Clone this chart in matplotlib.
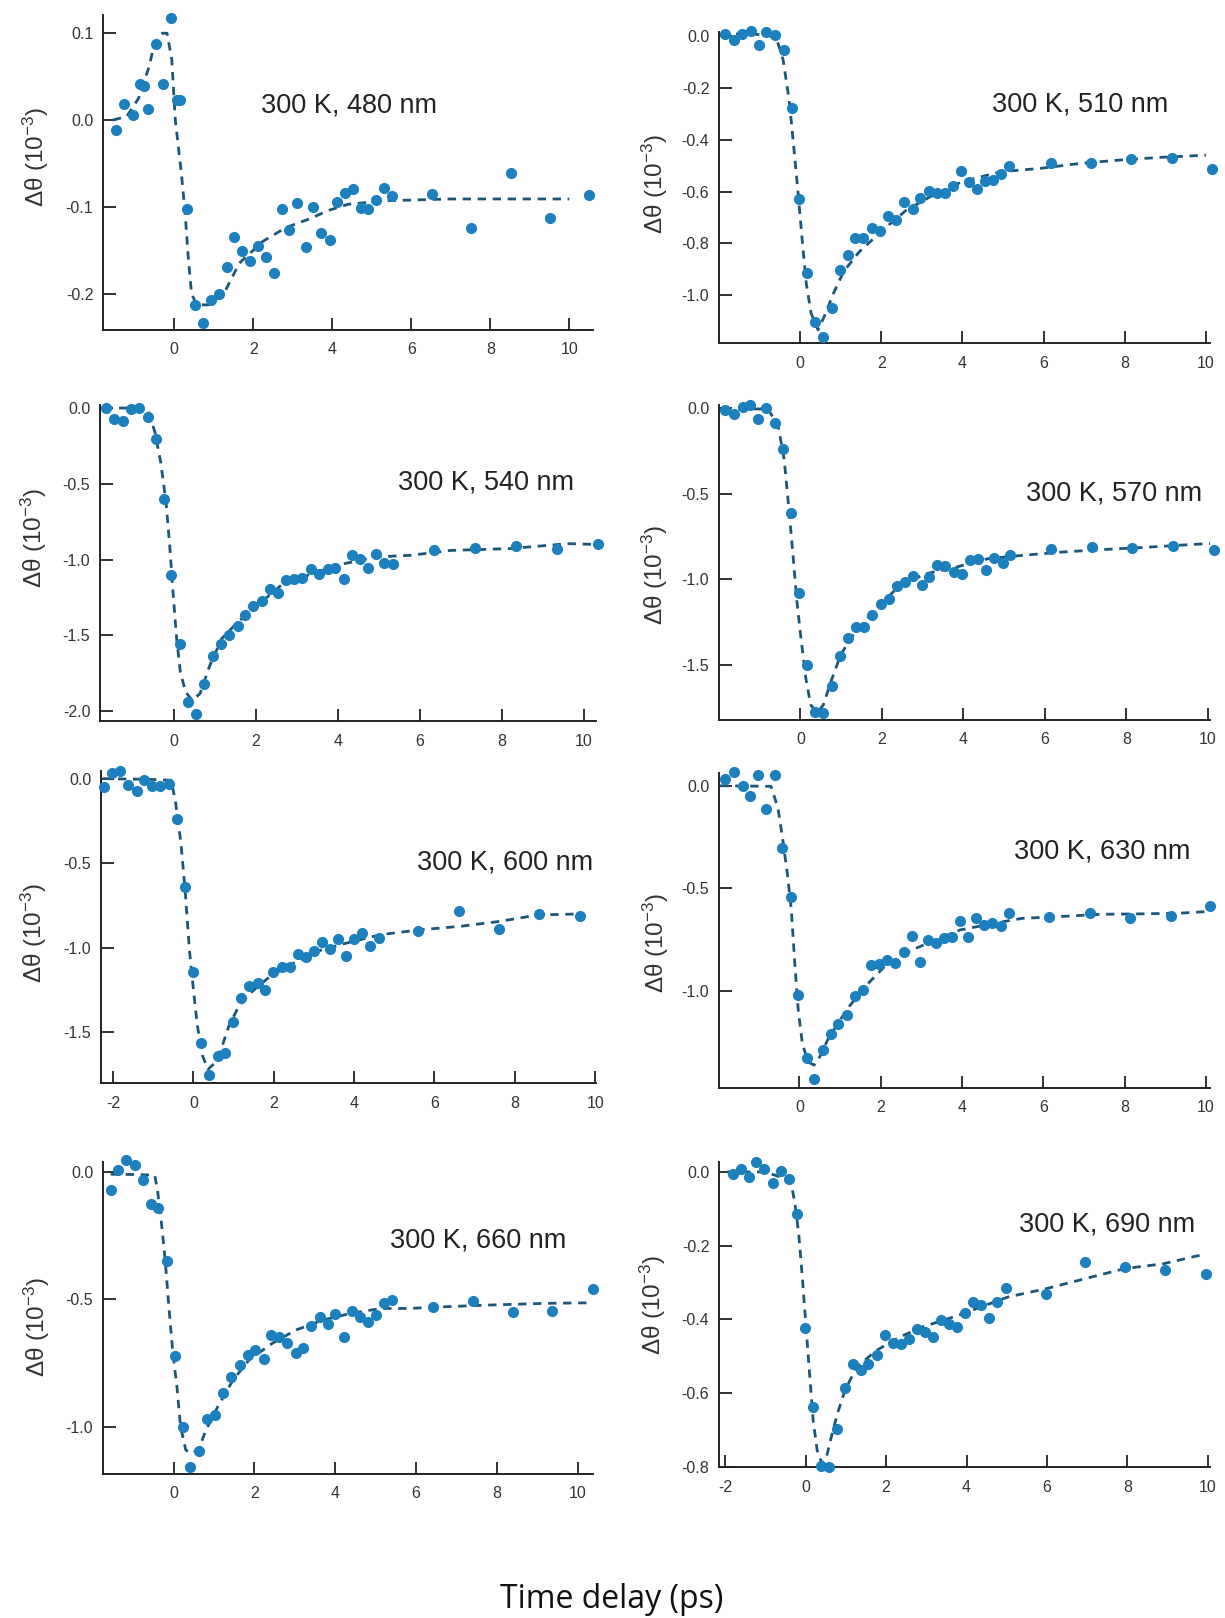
import matplotlib
matplotlib.use("Agg")
import matplotlib.pyplot as plt

plt.rcParams["font.family"] = ["Liberation Sans", "DejaVu Sans"]
plt.rcParams["axes.unicode_minus"] = False
plt.rcParams["mathtext.default"] = "regular"

# ---- data: delay (ps), signal (1e-3) and fit curve ----
T_480 = [-1.48, -1.28, -1.05, -0.86, -0.76, -0.66, -0.46, -0.28, -0.07, 0.08, 0.16, 0.33, 0.52,
         0.74, 0.93, 1.13, 1.34, 1.52, 1.71, 1.93, 2.13, 2.32, 2.53, 2.73, 2.91, 3.12, 3.33, 3.52,
         3.72, 3.94, 4.11, 4.32, 4.52, 4.72, 4.91, 5.12, 5.31, 5.52, 6.53, 7.51, 8.52, 9.51, 10.51]
D_480 = [-0.011, 0.018, 0.006, 0.042, 0.039, 0.013, 0.088, 0.041, 0.118, 0.023, 0.023, -0.103,
         -0.213, -0.234, -0.207, -0.200, -0.169, -0.135, -0.151, -0.163, -0.145, -0.158, -0.176,
         -0.103, -0.127, -0.096, -0.146, -0.100, -0.130, -0.138, -0.094, -0.084, -0.080, -0.101,
         -0.102, -0.092, -0.078, -0.088, -0.085, -0.124, -0.061, -0.113, -0.087]
FT_480 = [-1.55, -1.2, -0.9, -0.63, -0.5, -0.3, -0.18, -0.06, 0.03, 0.18, 0.28, 0.35, 0.44, 0.57,
          0.87, 1.26, 1.65, 2.24, 2.83, 3.42, 3.92, 4.41, 5.39, 7.0, 10.0]
F_480 = [0.0, 0.004, 0.025, 0.062, 0.088, 0.1, 0.1, 0.07, 0.0, -0.06, -0.108, -0.154, -0.2, -0.213,
         -0.213, -0.2, -0.165, -0.14, -0.124, -0.114, -0.104, -0.097, -0.093, -0.091, -0.091]

T_510 = [-1.86, -1.63, -1.44, -1.21, -1.02, -0.83, -0.61, -0.40, -0.21, -0.02, 0.17, 0.37, 0.56,
         0.78, 0.97, 1.18, 1.36, 1.56, 1.76, 1.96, 2.17, 2.36, 2.56, 2.77, 2.96, 3.17, 3.37, 3.56,
         3.77, 3.97, 4.16, 4.37, 4.56, 4.76, 4.95, 5.15, 6.17, 7.17, 8.16, 9.17, 10.16]
D_510 = [0.008, -0.013, 0.01, 0.02, -0.035, 0.017, 0.004, -0.054, -0.275, -0.628, -0.915, -1.105,
         -1.16, -1.05, -0.902, -0.845, -0.78, -0.78, -0.739, -0.751, -0.694, -0.71, -0.639, -0.668,
         -0.623, -0.599, -0.604, -0.607, -0.578, -0.519, -0.564, -0.589, -0.559, -0.555, -0.53,
         -0.5, -0.491, -0.488, -0.472, -0.469, -0.514]
FT_510 = [-1.95, -1.3, -0.8, -0.58, -0.42, -0.27, -0.15, -0.05, 0.05, 0.15, 0.27, 0.44, 0.6, 0.83,
          1.07, 1.46, 2.04, 2.62, 3.2, 3.98, 4.95, 5.92, 6.89, 7.86, 8.83, 10.0]
F_510 = [0.008, 0.01, 0.005, -0.01, -0.09, -0.247, -0.44, -0.607, -0.787, -0.954, -1.07, -1.134,
         -1.08, -0.99, -0.909, -0.832, -0.748, -0.671, -0.62, -0.562, -0.523, -0.51, -0.491,
         -0.478, -0.468, -0.459]

T_540 = [-1.66, -1.47, -1.25, -1.04, -0.85, -0.63, -0.44, -0.24, -0.06, 0.14, 0.35, 0.55, 0.74,
         0.95, 1.15, 1.35, 1.56, 1.74, 1.94, 2.14, 2.35, 2.55, 2.74, 2.94, 3.14, 3.35, 3.54, 3.75,
         3.94, 4.15, 4.35, 4.55, 4.75, 4.94, 5.14, 5.35, 6.34, 7.36, 8.35, 9.34, 10.36]
D_540 = [0.0, -0.07, -0.088, -0.004, 0.0, -0.059, -0.202, -0.598, -1.105, -1.556, -1.94, -2.018,
         -1.82, -1.637, -1.556, -1.496, -1.439, -1.369, -1.307, -1.276, -1.193, -1.219, -1.138,
         -1.127, -1.122, -1.06, -1.094, -1.065, -1.056, -1.131, -0.973, -0.999, -1.056, -0.961,
         -1.023, -1.032, -0.939, -0.922, -0.913, -0.928, -0.9]
FT_540 = [-1.7, -0.9, -0.63, -0.46, -0.32, -0.19, -0.1, -0.02, 0.07, 0.16, 0.29, 0.45, 0.64, 0.88,
          1.17, 1.56, 2.04, 2.62, 3.38, 4.15, 4.92, 5.79, 6.75, 8.19, 9.63, 10.2]
F_540 = [0.0, 0.0, -0.02, -0.158, -0.356, -0.62, -0.906, -1.214, -1.523, -1.743, -1.875, -1.93,
         -1.885, -1.699, -1.522, -1.413, -1.303, -1.17, -1.093, -1.028, -0.983, -0.972, -0.94,
         -0.928, -0.895, -0.9]

T_570 = [-1.85, -1.64, -1.42, -1.25, -1.05, -0.84, -0.63, -0.43, -0.24, -0.04, 0.15, 0.35, 0.56,
         0.77, 0.98, 1.16, 1.36, 1.57, 1.76, 1.97, 2.16, 2.36, 2.56, 2.76, 2.97, 3.16, 3.35, 3.55,
         3.76, 3.96, 4.15, 4.36, 4.56, 4.75, 4.96, 5.14, 6.15, 7.16, 8.14, 9.15, 10.14]
D_570 = [-0.008, -0.033, 0.006, 0.02, -0.063, 0.0, -0.087, -0.24, -0.614, -1.083, -1.5, -1.776,
         -1.785, -1.624, -1.451, -1.343, -1.28, -1.283, -1.211, -1.146, -1.116, -1.043, -1.018,
         -0.984, -1.037, -0.988, -0.919, -0.925, -0.959, -0.969, -0.89, -0.88, -0.945, -0.874,
         -0.906, -0.86, -0.821, -0.811, -0.817, -0.807, -0.831]
FT_570 = [-1.9, -0.8, -0.55, -0.4, -0.29, -0.18, -0.09, 0.01, 0.13, 0.25, 0.41, 0.56, 0.75, 0.99,
          1.33, 1.81, 2.39, 3.06, 3.83, 4.6, 5.47, 6.44, 7.4, 8.36, 9.33, 10.05]
F_570 = [0.0, -0.004, -0.1, -0.3, -0.575, -0.87, -1.126, -1.343, -1.579, -1.736, -1.785, -1.736,
         -1.598, -1.441, -1.313, -1.185, -1.047, -0.969, -0.929, -0.88, -0.86, -0.841, -0.827,
         -0.815, -0.801, -0.791]

T_600 = [-2.23, -2.03, -1.83, -1.62, -1.4, -1.23, -1.03, -0.83, -0.62, -0.42, -0.21, 0.0, 0.19,
         0.39, 0.6, 0.79, 0.98, 1.19, 1.39, 1.6, 1.79, 1.99, 2.21, 2.4, 2.6, 2.8, 3.0, 3.2, 3.4,
         3.6, 3.79, 4.0, 4.2, 4.39, 4.61, 5.6, 6.62, 7.6, 8.61, 9.63]
D_600 = [-0.049, 0.033, 0.045, -0.039, -0.073, -0.01, -0.045, -0.045, -0.029, -0.236, -0.639,
         -1.145, -1.566, -1.754, -1.64, -1.625, -1.44, -1.297, -1.228, -1.208, -1.248, -1.145,
         -1.114, -1.114, -1.035, -1.055, -1.022, -0.969, -1.008, -0.949, -1.051, -0.949, -0.914,
         -0.992, -0.943, -0.9, -0.782, -0.888, -0.8, -0.815]
FT_600 = [-2.25, -1.0, -0.55, -0.44, -0.31, -0.2, -0.1, 0.0, 0.1, 0.23, 0.36, 0.54, 0.69, 0.88,
          1.13, 1.42, 1.91, 2.5, 3.19, 3.87, 4.66, 5.64, 6.62, 7.6, 8.58, 9.66]
F_600 = [0.0, -0.005, -0.01, -0.147, -0.383, -0.678, -1.012, -1.248, -1.464, -1.64, -1.72, -1.68,
         -1.6, -1.464, -1.346, -1.267, -1.169, -1.09, -1.012, -0.969, -0.923, -0.894, -0.874,
         -0.845, -0.806, -0.8]

T_630 = [-1.84, -1.62, -1.4, -1.21, -1.01, -0.82, -0.61, -0.43, -0.22, -0.03, 0.18, 0.36, 0.58,
         0.77, 0.96, 1.18, 1.37, 1.56, 1.76, 1.96, 2.16, 2.36, 2.57, 2.77, 2.96, 3.15, 3.37, 3.56,
         3.75, 3.95, 4.15, 4.35, 4.54, 4.74, 4.95, 5.15, 6.14, 7.14, 8.14, 9.13, 10.1]
D_630 = [0.033, 0.065, 0.0, -0.052, 0.054, -0.114, 0.054, -0.304, -0.54, -1.02, -1.328, -1.426,
         -1.288, -1.21, -1.158, -1.117, -1.024, -0.995, -0.873, -0.87, -0.849, -0.865, -0.808,
         -0.732, -0.857, -0.751, -0.767, -0.743, -0.735, -0.657, -0.738, -0.646, -0.678, -0.667,
         -0.683, -0.618, -0.637, -0.618, -0.646, -0.634, -0.585]
FT_630 = [-1.95, -0.7, -0.53, -0.41, -0.3, -0.2, -0.11, -0.03, 0.07, 0.21, 0.36, 0.5, 0.69, 0.94,
          1.22, 1.61, 2.09, 2.67, 3.35, 3.96, 4.79, 5.47, 6.43, 7.4, 8.36, 9.33, 10.0]
F_630 = [0.0, -0.003, -0.109, -0.263, -0.426, -0.605, -0.881, -1.093, -1.255, -1.345, -1.361,
         -1.32, -1.239, -1.158, -1.076, -0.979, -0.881, -0.808, -0.751, -0.702, -0.67, -0.646,
         -0.637, -0.626, -0.624, -0.621, -0.613]

T_660 = [-1.56, -1.37, -1.18, -0.96, -0.76, -0.57, -0.38, -0.16, 0.03, 0.22, 0.41, 0.63, 0.83,
         1.02, 1.23, 1.43, 1.64, 1.83, 2.02, 2.23, 2.41, 2.61, 2.8, 3.02, 3.21, 3.4, 3.61, 3.82,
         4.0, 4.21, 4.41, 4.6, 4.81, 5.01, 5.2, 5.4, 6.41, 7.4, 8.39, 9.37, 10.38]
D_660 = [-0.069, 0.009, 0.046, 0.026, -0.03, -0.127, -0.14, -0.35, -0.723, -1.0, -1.157, -1.094,
         -0.971, -0.954, -0.869, -0.804, -0.758, -0.719, -0.699, -0.736, -0.641, -0.647, -0.671,
         -0.712, -0.693, -0.605, -0.571, -0.597, -0.558, -0.647, -0.545, -0.571, -0.588, -0.562,
         -0.516, -0.503, -0.529, -0.507, -0.549, -0.545, -0.461]
FT_660 = [-1.56, -1.0, -0.47, -0.4, -0.31, -0.21, -0.12, -0.02, 0.08, 0.17, 0.3, 0.43, 0.61, 0.8,
          1.09, 1.47, 1.86, 2.44, 3.02, 3.69, 4.36, 5.13, 5.81, 6.77, 7.74, 9.18, 10.24]
F_660 = [-0.009, -0.01, -0.013, -0.072, -0.19, -0.346, -0.529, -0.712, -0.843, -1.0, -1.092,
         -1.105, -1.092, -1.013, -0.922, -0.817, -0.739, -0.673, -0.621, -0.582, -0.556, -0.536,
         -0.536, -0.529, -0.523, -0.516, -0.514]

T_690 = [-1.81, -1.6, -1.41, -1.22, -1.02, -0.82, -0.62, -0.41, -0.21, -0.01, 0.18, 0.39, 0.58,
         0.77, 0.98, 1.18, 1.37, 1.56, 1.77, 1.97, 2.17, 2.36, 2.57, 2.77, 2.96, 3.17, 3.37, 3.57,
         3.76, 3.97, 4.17, 4.37, 4.56, 4.76, 4.97, 5.97, 6.95, 7.95, 8.94, 9.95]
D_690 = [-0.006, 0.009, -0.014, 0.027, 0.009, -0.03, 0.003, -0.018, -0.115, -0.422, -0.636,
         -0.796, -0.8, -0.696, -0.585, -0.522, -0.536, -0.522, -0.497, -0.443, -0.464, -0.467,
         -0.452, -0.425, -0.434, -0.448, -0.401, -0.413, -0.42, -0.382, -0.353, -0.362, -0.395,
         -0.353, -0.316, -0.33, -0.244, -0.259, -0.265, -0.278]
FT_690 = [-1.95, -1.0, -0.37, -0.27, -0.17, -0.08, 0.0, 0.1, 0.19, 0.29, 0.41, 0.52, 0.64, 0.79,
          0.98, 1.27, 1.76, 2.33, 2.91, 3.68, 4.36, 5.03, 6.0, 6.96, 7.93, 8.89, 9.95]
F_690 = [0.0, 0.0, -0.023, -0.081, -0.167, -0.285, -0.402, -0.547, -0.674, -0.755, -0.791,
         -0.773, -0.719, -0.656, -0.592, -0.529, -0.484, -0.448, -0.42, -0.393, -0.366, -0.339,
         -0.316, -0.289, -0.262, -0.249, -0.222]

LABELS = ["300 K, 480 nm", "300 K, 510 nm", "300 K, 540 nm", "300 K, 570 nm",
          "300 K, 600 nm", "300 K, 630 nm", "300 K, 660 nm", "300 K, 690 nm"]
YTICKS = [[0.1, 0.0, -0.1, -0.2], [0.0, -0.2, -0.4, -0.6, -0.8, -1.0],
          [0.0, -0.5, -1.0, -1.5, -2.0], [0.0, -0.5, -1.0, -1.5],
          [0.0, -0.5, -1.0, -1.5], [0.0, -0.5, -1.0], [0.0, -0.5, -1.0],
          [0.0, -0.2, -0.4, -0.6, -0.8]]
XTICKS = [list(range(0, 11, 2)), list(range(0, 11, 2)), list(range(0, 11, 2)),
          list(range(0, 11, 2)), list(range(-2, 11, 2)), list(range(0, 11, 2)),
          list(range(0, 11, 2)), list(range(-2, 11, 2))]

SERIES = [(T_480, D_480, FT_480, F_480), (T_510, D_510, FT_510, F_510),
          (T_540, D_540, FT_540, F_540), (T_570, D_570, FT_570, F_570),
          (T_600, D_600, FT_600, F_600), (T_630, D_630, FT_630, F_630),
          (T_660, D_660, FT_660, F_660), (T_690, D_690, FT_690, F_690)]

# layout: axes box in figure pixels (left, right, top, bottom), limits, label spots
W, H = 1225, 1618
BOXES = [(103, 593, 15, 330), (719, 1210, 32, 343), (100, 596, 405, 721), (719, 1210, 405, 720),
         (101, 596, 771, 1083), (719, 1210, 773, 1088), (103, 593, 1162, 1474),
         (719, 1210, 1162, 1467)]
XLIMS = [(-1.8, 10.6), (-2.0, 10.1), (-1.8, 10.3), (-2.0, 10.05), (-2.3, 10.02), (-1.98, 10.1),
         (-1.75, 10.38), (-2.15, 10.05)]
YLIMS = [(-0.242, 0.121), (-1.185, 0.017), (-2.066, 0.02), (-1.825, 0.02), (-1.8, 0.045),
         (-1.472, 0.062), (-1.186, 0.039), (-0.8, 0.027)]
TEXT_XY = [(4.42, 0.017), (6.91, -0.263), (7.62, -0.494), (7.7, -0.5), (7.76, -0.494),
           (7.45, -0.32), (7.53, -0.27), (7.49, -0.142)]
YLAB_XY = [(-0.106, 0.55), (-0.1, 0.51), (-0.103, 0.58), (-0.1, 0.46), (-0.106, 0.48),
           (-0.098, 0.46), (-0.104, 0.47), (-0.104, 0.53)]

DOT = "#1b80bd"
FIT = "#1c5677"
AX = "#222222"

fig = plt.figure(figsize=(W / 100, H / 100), dpi=100)

for i, (t, d, ft, f) in enumerate(SERIES):
    l, r, top, bot = BOXES[i]
    ax = fig.add_axes([l / W, 1 - bot / H, (r - l) / W, (bot - top) / H])
    ax.plot(ft, f, color=FIT, lw=2.0, dashes=(3.0, 2.4), zorder=2)
    ax.plot(t, d, "o", color=DOT, ms=7, mec=DOT, zorder=3, clip_on=False)
    ax.set_xlim(*XLIMS[i])
    ax.set_ylim(*YLIMS[i])
    ax.set_xticks(XTICKS[i])
    ax.set_yticks(YTICKS[i])
    ax.set_xticklabels([str(v) for v in XTICKS[i]])
    ax.set_yticklabels([f"{v:.1f}" for v in YTICKS[i]])
    for s in ("top", "right"):
        ax.spines[s].set_visible(False)
    for s in ("left", "bottom"):
        ax.spines[s].set_linewidth(1.4)
        ax.spines[s].set_color(AX)
    ax.tick_params(direction="in", length=9, width=1.3, color=AX, labelsize=11.5,
                   labelcolor="#333333", pad=7)
    ax.tick_params(axis="x", pad=9)
    ax.text(*TEXT_XY[i], LABELS[i], ha="center", va="center", fontsize=19.5, color="#222222")
    ax.set_ylabel(r"Δθ (10$^{-3}$)", fontsize=17.5, color="#333333")
    ax.yaxis.set_label_coords(*YLAB_XY[i])

fig.text(612 / W, 1 - 1600 / H, "Time delay (ps)", ha="center", va="center",
         fontsize=23, family=["Open Sans", "DejaVu Sans"], color="#111111")

fig.savefig("out.png", dpi=100)
